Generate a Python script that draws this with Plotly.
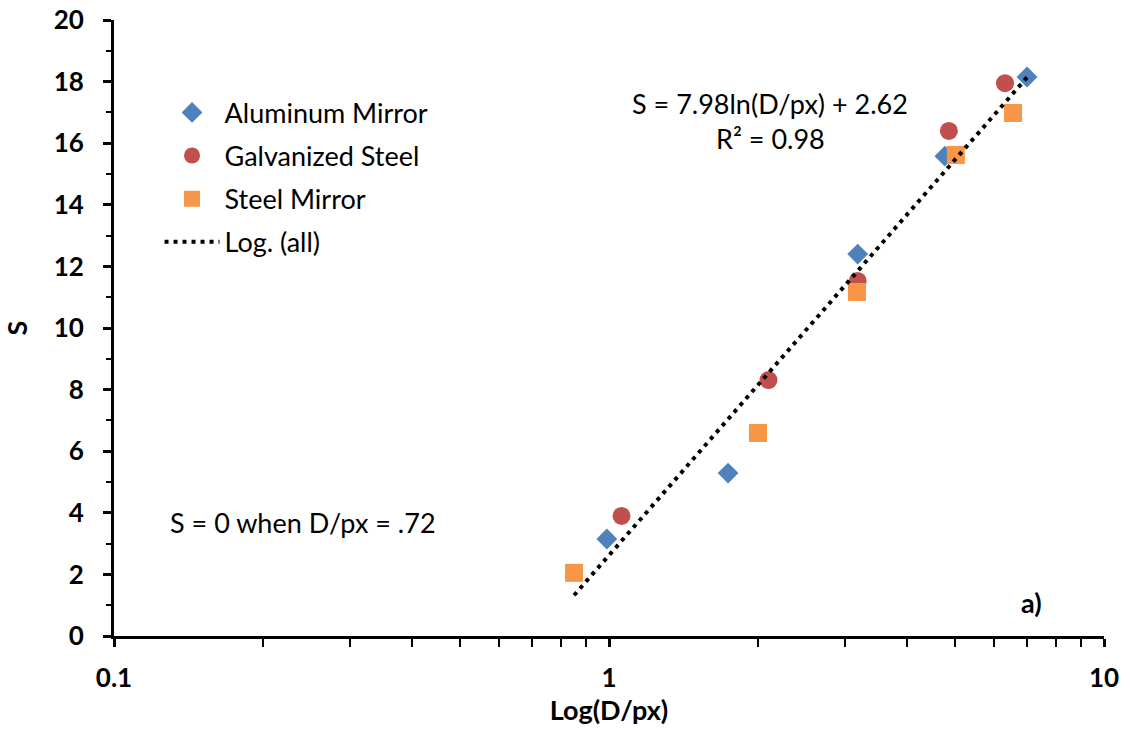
import numpy as np
import plotly.graph_objects as go

# --- data ---
al_x = [0.99, 1.74, 3.18, 4.77, 6.99]
al_y = [3.15, 5.29, 12.40, 15.58, 18.15]

gs_x = [1.06, 2.10, 3.18, 4.86, 6.31]
gs_y = [3.90, 8.31, 11.53, 16.40, 17.95]

sm_x = [0.85, 2.00, 3.17, 5.02, 6.55]
sm_y = [2.05, 6.59, 11.17, 15.62, 16.98]

trend_slope = 7.98
trend_intercept = 2.62

y_ticks = [0, 2, 4, 6, 8, 10, 12, 14, 16, 18, 20]
x_ticks = [0.1, 1, 10]
x_tick_labels = ["0.1", "1", "10"]
x_minor = [0.2, 0.3, 0.4, 0.5, 0.6, 0.7, 0.8, 0.9, 2, 3, 4, 5, 6, 7, 8, 9]

FONT = "Lato"
TXT = 27

all_x = al_x + gs_x + sm_x
tx = np.array([min(all_x), max(all_x)])
ty = trend_slope * np.log(tx) + trend_intercept

fig = go.Figure()
fig.add_trace(go.Scatter(x=al_x, y=al_y, mode="markers", name="Aluminum Mirror", legendgroup="a",
                         marker=dict(symbol="diamond", size=16, color="#4F81BD")))
fig.add_trace(go.Scatter(x=gs_x, y=gs_y, mode="markers", name="Galvanized Steel", legendgroup="b",
                         marker=dict(symbol="circle", size=18, color="#C0504D")))
fig.add_trace(go.Scatter(x=sm_x, y=sm_y, mode="markers", name="Steel Mirror", legendgroup="c",
                         marker=dict(symbol="square", size=18, color="#F79646")))
fig.add_trace(go.Scatter(x=tx, y=ty, mode="lines", name="Log. (all)", legendgroup="d",
                         line=dict(color="black", width=4, dash="4px,5px")))

fig.update_layout(
    width=1131, height=730,
    margin=dict(l=114, r=27, t=20, b=94),
    paper_bgcolor="white", plot_bgcolor="white",
    font=dict(family=FONT, size=TXT, color="black"),
    legend=dict(x=0.046, y=0.889, xanchor="left", yanchor="top",
                font=dict(size=TXT, family=FONT), bgcolor="rgba(0,0,0,0)",
                tracegroupgap=5, itemwidth=55),
    xaxis=dict(type="log", range=[-1, 1], tickvals=x_ticks, ticktext=x_tick_labels,
               automargin=False, ticklabeloverflow="allow",
               ticks="outside", ticklen=8, tickwidth=3, tickcolor="black",
               showline=True, linewidth=3, linecolor="black", showgrid=False, zeroline=False,
               tickfont=dict(size=26, family=FONT, weight="bold"),
               ticklabelstandoff=9,
               minor=dict(tickvals=x_minor, ticks="outside", ticklen=8, tickwidth=2,
                          tickcolor="black", showgrid=False),
               title=dict(text="<b>Log(D/px)</b>", font=dict(size=TXT, family=FONT), standoff=8)),
    yaxis=dict(range=[0, 20], tickvals=y_ticks, automargin=False, ticklabeloverflow="allow",
               ticks="outside", ticklen=8, tickwidth=3, tickcolor="black",
               showline=True, linewidth=3, linecolor="black", showgrid=False, zeroline=False,
               tickfont=dict(size=26, family=FONT, weight="bold"),
               ticklabelstandoff=14,
               minor=dict(dtick=1, ticks="outside", ticklen=5, tickwidth=2,
                          tickcolor="black", showgrid=False),
               title=dict(text="<b>S</b>", font=dict(size=TXT, family=FONT), standoff=20)),
    showlegend=True,
)

ann = dict(xref="paper", yref="paper", showarrow=False, xanchor="center", yanchor="middle")
fig.add_annotation(x=0.663, y=0.864, text="S = 7.98ln(D/px) + 2.62",
                   font=dict(size=TXT, family=FONT), **ann)
fig.add_annotation(x=0.663, y=0.807, text="R² = 0.98",
                   font=dict(size=TXT, family=FONT), **ann)
fig.add_annotation(x=0.191, y=0.185, text="S = 0 when D/px = .72",
                   font=dict(size=TXT, family=FONT), **ann)
fig.add_annotation(x=0.927, y=0.054, text="<b>a)</b>",
                   font=dict(size=TXT, family=FONT), **ann)

# remove the browser's default 8px page margin so the figure fills the window exactly
fig.write_html("out.html", config={"displayModeBar": False},
               post_script="document.body.style.margin='0';document.body.style.overflow='hidden';")
